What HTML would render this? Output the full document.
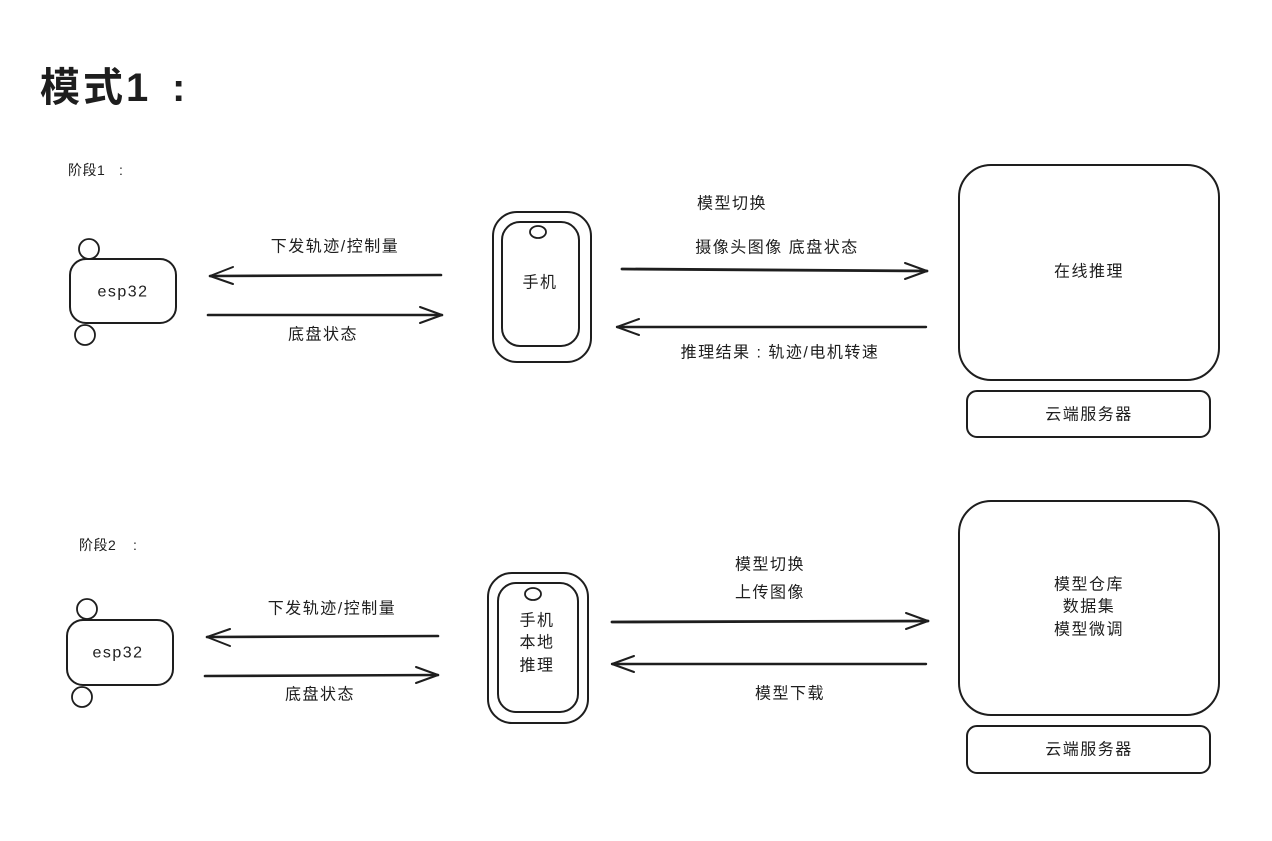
<!DOCTYPE html>
<html>
<head>
<meta charset="utf-8">
<style>
html,body{margin:0;padding:0;background:#fff;}
svg{display:block;}
text{font-family:"Liberation Sans","Noto Sans CJK SC",sans-serif;fill:#1e1e1e;}
.l{font-size:16px;letter-spacing:1.5px;}
</style>
</head>
<body>
<svg width="1272" height="841" viewBox="0 0 1272 841" xmlns="http://www.w3.org/2000/svg">
<rect width="1272" height="841" fill="#fff"/>
<g fill="none" stroke="#1e1e1e" stroke-linecap="round" stroke-linejoin="round">
  <!-- Stage 1 esp32 -->
  <rect x="70" y="259" width="106" height="64" rx="16" stroke-width="2"/>
  <circle cx="89" cy="249" r="10" stroke-width="1.8"/>
  <circle cx="85" cy="335" r="10" stroke-width="1.8"/>
  <!-- arrows left side stage 1 -->
  <path d="M441 275 L210 276" stroke-width="2.6"/>
  <path d="M233 267 L210 276 L233 284" stroke-width="2"/>
  <path d="M208 315 L442 315" stroke-width="2.6"/>
  <path d="M420 307 L442 315 L420 323" stroke-width="2"/>
  <!-- phone 1 -->
  <rect x="493" y="212" width="98" height="150" rx="24" stroke-width="2"/>
  <rect x="502" y="222" width="77" height="124" rx="18" stroke-width="2"/>
  <ellipse cx="538" cy="232" rx="8" ry="6" stroke-width="1.8"/>
  <!-- arrows right stage 1 -->
  <path d="M622 269 L927 271" stroke-width="2.8"/>
  <path d="M905 263 L927 271 L905 279" stroke-width="2"/>
  <path d="M926 327 L617 327" stroke-width="2.4"/>
  <path d="M639 319 L617 327 L639 335" stroke-width="2"/>
  <!-- cloud 1 -->
  <rect x="959" y="165" width="260" height="215" rx="32" stroke-width="2"/>
  <rect x="967" y="391" width="243" height="46" rx="10" stroke-width="2"/>

  <!-- Stage 2 esp32 -->
  <rect x="67" y="620" width="106" height="65" rx="16" stroke-width="2"/>
  <circle cx="87" cy="609" r="10" stroke-width="1.8"/>
  <circle cx="82" cy="697" r="10" stroke-width="1.8"/>
  <path d="M438 636 L207 637" stroke-width="2.6"/>
  <path d="M230 629 L207 637 L230 646" stroke-width="2"/>
  <path d="M205 676 L438 675" stroke-width="2.6"/>
  <path d="M416 667 L438 675 L416 683" stroke-width="2"/>
  <!-- phone 2 -->
  <rect x="488" y="573" width="100" height="150" rx="24" stroke-width="2"/>
  <rect x="498" y="583" width="80" height="129" rx="18" stroke-width="2"/>
  <ellipse cx="533" cy="594" rx="8" ry="6" stroke-width="1.8"/>
  <path d="M612 622 L928 621" stroke-width="2.8"/>
  <path d="M906 613 L928 621 L906 629" stroke-width="2"/>
  <path d="M926 664 L612 664" stroke-width="2.4"/>
  <path d="M634 656 L612 664 L634 672" stroke-width="2"/>
  <!-- cloud 2 -->
  <rect x="959" y="501" width="260" height="214" rx="32" stroke-width="2"/>
  <rect x="967" y="726" width="243" height="47" rx="10" stroke-width="2"/>
</g>

<!-- texts -->
<text x="40" y="101" font-size="40" font-weight="bold" letter-spacing="3">模式1</text>
<text x="172" y="101" font-size="40" font-weight="bold">:</text>
<text x="68" y="175" font-size="14" letter-spacing="0.5">阶段1</text>
<text x="119" y="175" font-size="14">:</text>
<text x="79" y="550" font-size="14" letter-spacing="0.5">阶段2</text>
<text x="133" y="550" font-size="14">:</text>

<g text-anchor="middle" dominant-baseline="central" class="l">
  <text x="123" y="292" font-size="16">esp32</text>
  <text x="335" y="247">下发轨迹/控制量</text>
  <text x="323" y="335">底盘状态</text>
  <text x="540" y="283">手机</text>
  <text x="732" y="204">模型切换</text>
  <text x="777" y="248">摄像头图像  底盘状态</text>
  <text x="780" y="353">推理结果 : 轨迹/电机转速</text>
  <text x="1089" y="272">在线推理</text>
  <text x="1089" y="415">云端服务器</text>

  <text x="118" y="653" font-size="16">esp32</text>
  <text x="332" y="609">下发轨迹/控制量</text>
  <text x="320" y="695">底盘状态</text>
  <text x="537" y="621">手机</text>
  <text x="537" y="643">本地</text>
  <text x="537" y="666">推理</text>
  <text x="770" y="565">模型切换</text>
  <text x="770" y="593">上传图像</text>
  <text x="790" y="694">模型下载</text>
  <text x="1089" y="585">模型仓库</text>
  <text x="1089" y="607">数据集</text>
  <text x="1089" y="630">模型微调</text>
  <text x="1089" y="750">云端服务器</text>
</g>
</svg>
</body>
</html>
